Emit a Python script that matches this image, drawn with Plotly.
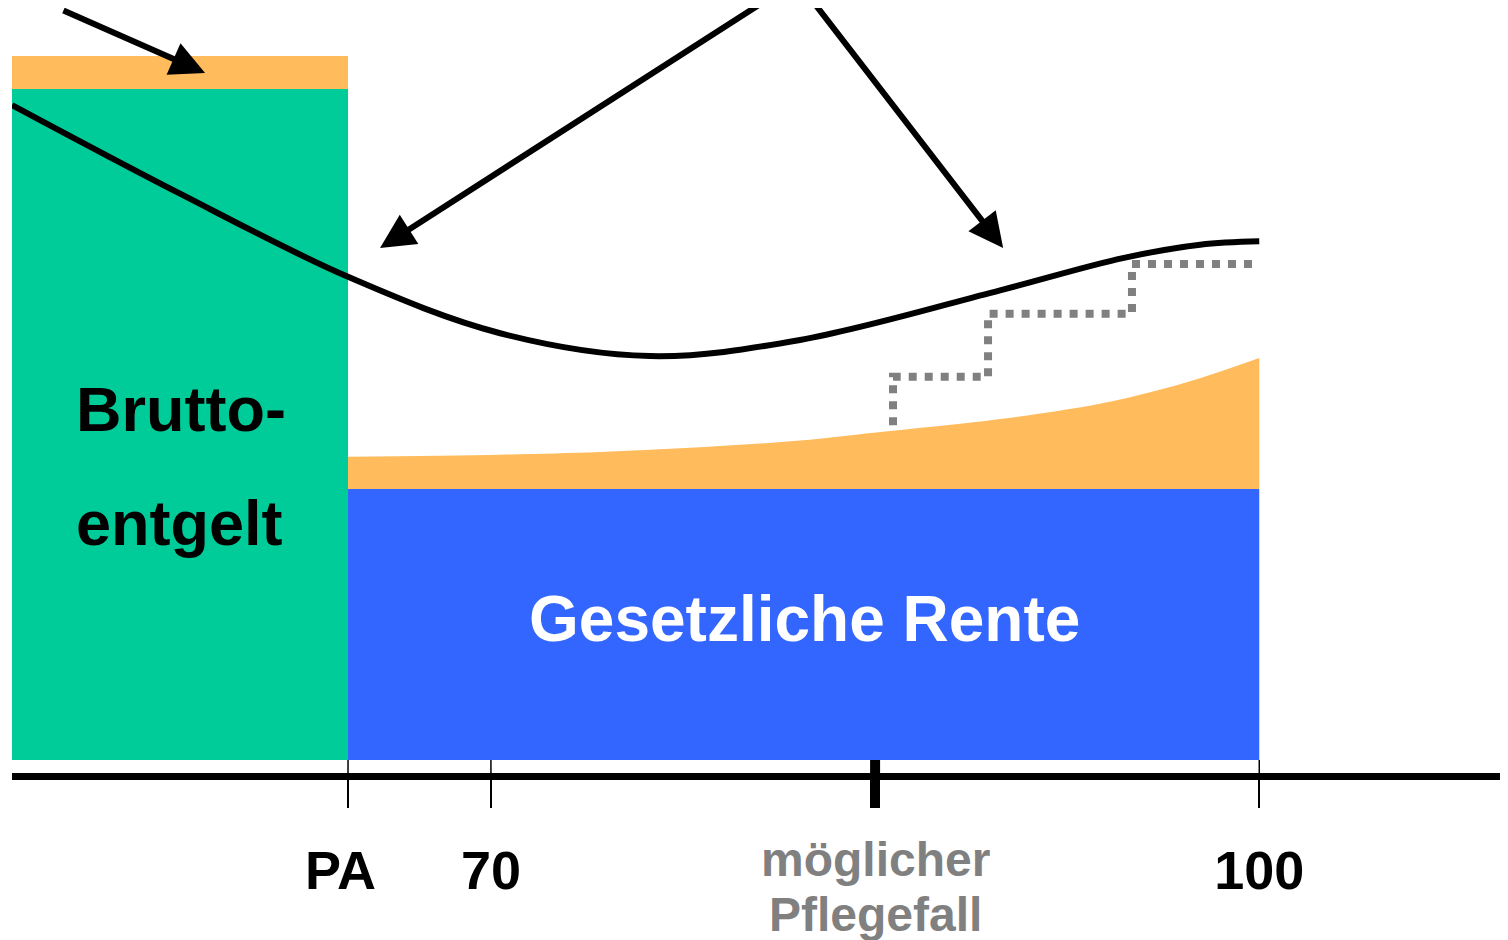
import plotly.graph_objects as go

# ---- data (x = age in years, y = % of gross salary) ----
X_RANGE = [51.3, 109.4]
Y_RANGE = [-1.94, 112.07]

WORK_START = 51.3          # left edge of salary bar
PA = 64.42                 # retirement age (Pensionsalter)
AGE_END = 100
PFLEGE_AGE = 85

BRUTTO = 100.0             # gross salary
BRUTTO_EXTRA = 104.9       # orange cap on top of salary
RENTE = 40.4               # statutory pension level

# orange gap band on top of pension
gap_ages = [64.42, 70.36, 74.26, 78.17, 82.07, 85.04, 89.88, 93.78, 95.74, 97.69, 100.0]
gap_top = [45.2, 45.5, 45.9, 46.6, 47.6, 48.8, 50.8, 53.1, 54.8, 56.9, 59.9]

# black need curve
need_ages = [51.3, 57.86, 64.42, 70.36, 76.21, 82.07, 89.88, 94.67, 97.69, 100.0]
need_vals = [97.6, 84.4, 72.0, 63.6, 60.2, 62.6, 70.0, 74.8, 76.8, 77.3]

# grey dotted care-cost steps
care_ages = [85.7, 89.41, 95.03, 100.0]
care_vals = [49.9, 57.1, 66.5, 73.9]

# arrows: (tail age, tail val, head age, head val)
arrows = [
    (53.25, 111.8, 58.84, 102.4),
    (80.9, 113.6, 65.67, 76.3),
    (82.46, 113.6, 90.0, 76.3),
]

tick_vals = [PA, 70, 100]
tick_text = ["PA\u00a0", "70", "100"]
care_label = ["möglicher", "Pflegefall"]

GREEN = "#00CC99"
ORANGE = "#FFBB5C"
BLUE = "#3366FF"
GREY = "#808080"
FONT = "Liberation Sans, Arial, sans-serif"

fig = go.Figure()

# salary bar
fig.add_trace(go.Bar(x=[(WORK_START + PA) / 2], y=[BRUTTO], base=[0], width=[PA - WORK_START],
                     marker=dict(color=GREEN, line=dict(width=0)), hoverinfo="skip"))
fig.add_trace(go.Bar(x=[(WORK_START + PA) / 2], y=[BRUTTO_EXTRA - BRUTTO], base=[BRUTTO],
                     width=[PA - WORK_START], marker=dict(color=ORANGE, line=dict(width=0)),
                     hoverinfo="skip"))
# pension bar
fig.add_trace(go.Bar(x=[(PA + AGE_END) / 2], y=[RENTE], base=[0], width=[AGE_END - PA],
                     marker=dict(color=BLUE, line=dict(width=0)), hoverinfo="skip"))
# orange band
fig.add_trace(go.Scatter(x=gap_ages, y=[RENTE] * len(gap_ages), mode="lines",
                         line=dict(width=0, color=ORANGE), hoverinfo="skip"))
fig.add_trace(go.Scatter(x=gap_ages, y=gap_top, mode="lines", fill="tonexty",
                         fillcolor=ORANGE, line=dict(width=0, color=ORANGE, shape="spline"),
                         hoverinfo="skip"))
# care steps
fig.add_trace(go.Scatter(x=care_ages, y=care_vals, mode="lines",
                         line=dict(color=GREY, width=8, dash="8px,8px", shape="vh"),
                         hoverinfo="skip"))
# need curve
fig.add_trace(go.Scatter(x=need_ages, y=need_vals, mode="lines",
                         line=dict(color="black", width=6, shape="spline", smoothing=1.0),
                         hoverinfo="skip"))

# tick stubs above the axis line
for tv in tick_vals:
    fig.add_shape(type="line", xref="x", yref="y", x0=tv, x1=tv, y0=0, y1=Y_RANGE[0],
                  line=dict(color="black", width=1.5))
fig.add_shape(type="line", xref="x", yref="y", x0=PFLEGE_AGE, x1=PFLEGE_AGE, y0=0, y1=Y_RANGE[0],
              line=dict(color="black", width=10))

# arrows
for tx, ty, hx, hy in arrows:
    fig.add_annotation(x=hx, y=hy, ax=tx, ay=ty, xref="x", yref="y", axref="x", ayref="y",
                       text="", showarrow=True, arrowhead=2, arrowsize=1.15, arrowwidth=6,
                       arrowcolor="black", standoff=0)

# texts
fig.add_annotation(x=53.72, y=(760 - 409) / 6.71, xref="x", yref="y", text="Brutto-",
                   showarrow=False, xanchor="left", yanchor="middle",
                   font=dict(family=FONT, size=63, color="black", weight="bold"))
fig.add_annotation(x=53.72, y=(760 - 523) / 6.71, xref="x", yref="y", text="entgelt",
                   showarrow=False, xanchor="left", yanchor="middle",
                   font=dict(family=FONT, size=63, color="black", weight="bold"))
fig.add_annotation(x=82.23, y=21.0, xref="x", yref="y", text="Gesetzliche Rente",
                   showarrow=False, xanchor="center", yanchor="middle",
                   font=dict(family=FONT, size=64, color="white", weight="bold"))
for txt, py in zip(care_label, [-0.1137, -0.1856]):
    fig.add_annotation(x=PFLEGE_AGE, y=py, xref="x", yref="paper", text=txt,
                       showarrow=False, xanchor="center", yanchor="middle",
                       font=dict(family=FONT, size=48, color=GREY, weight="bold"))

fig.update_layout(
    width=1500, height=932,
    margin=dict(l=4, r=8, t=0, b=167),
    paper_bgcolor="white", plot_bgcolor="white",
    showlegend=False, barmode="overlay",
    xaxis=dict(range=X_RANGE, showgrid=False, zeroline=False, showline=True,
               linecolor="black", linewidth=7, ticks="outside", ticklen=28, tickwidth=1.5,
               tickcolor="black", tickvals=tick_vals, ticktext=tick_text,
               ticklabelstandoff=16,
               tickfont=dict(family=FONT, size=54, color="black", weight="bold"),
               minor=dict(tickvals=[PFLEGE_AGE], ticks="outside", ticklen=28, tickwidth=10,
                          tickcolor="black", showgrid=False)),
    yaxis=dict(range=Y_RANGE, visible=False, showgrid=False, zeroline=False),
)

fig.write_html("out.html")
